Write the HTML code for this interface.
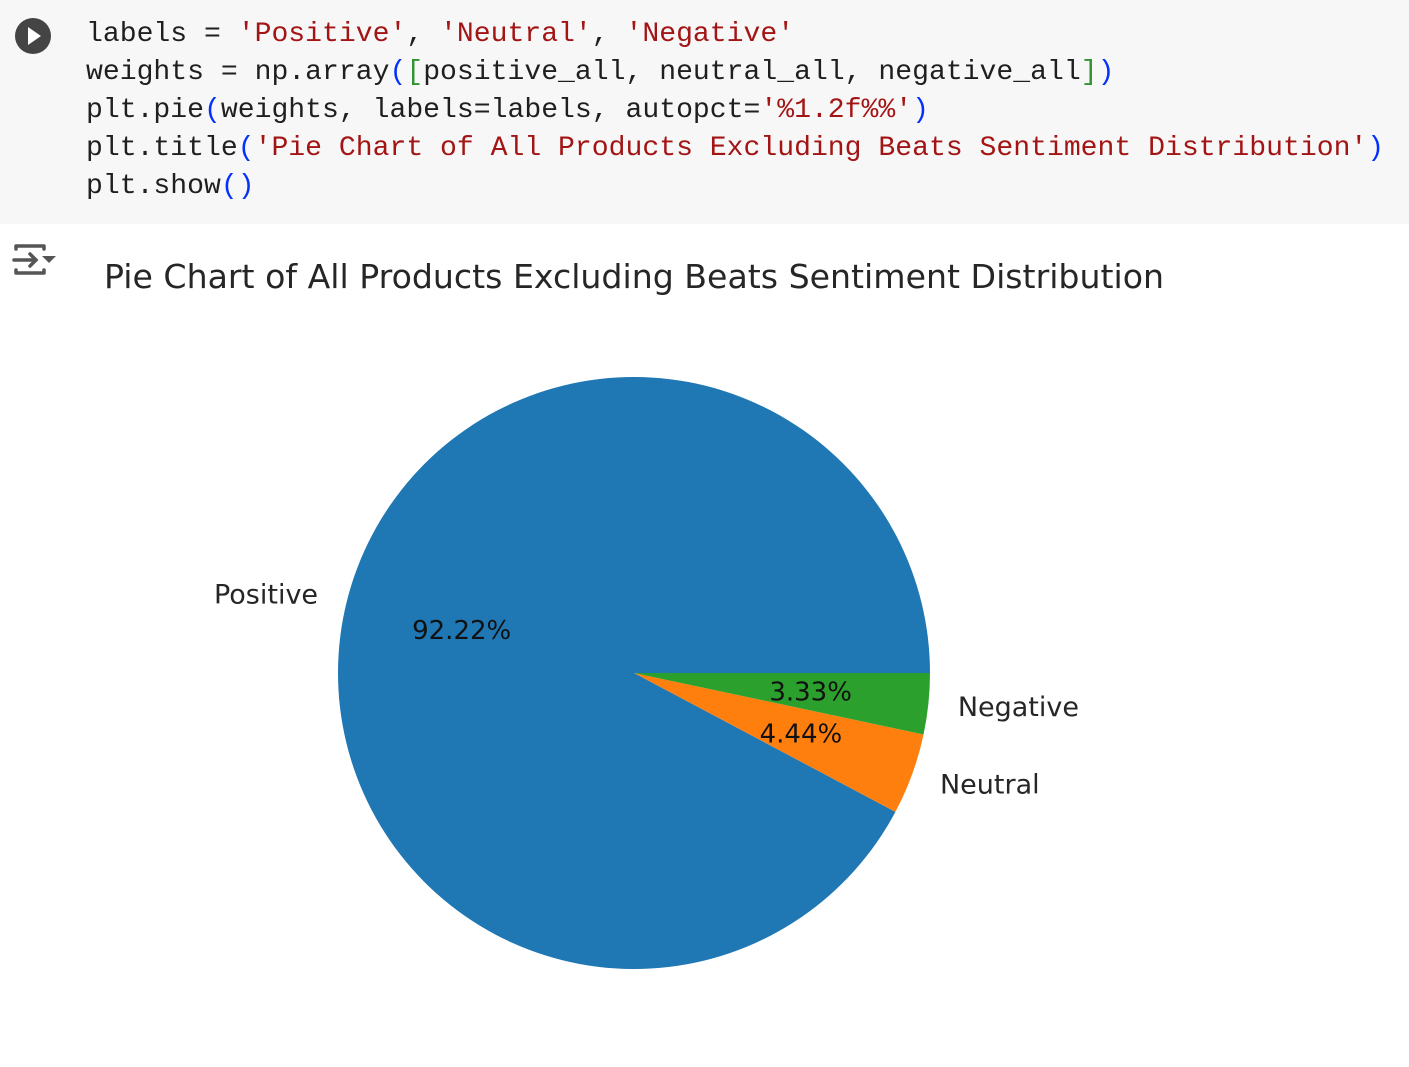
<!DOCTYPE html>
<html><head><meta charset="utf-8">
<style>
html,body{margin:0;padding:0;width:1409px;height:1067px;background:#fff;overflow:hidden}
#code{position:absolute;left:0;top:0;width:1409px;height:224px;background:#f7f7f7}
#code pre{position:absolute;left:86px;top:16px;margin:0;font-family:"Liberation Mono",monospace;font-size:28.1px;line-height:38px;color:#1f1f1f}
.s{color:#a31515}.p{color:#0431fa}.g{color:#319331}
svg text{font-family:"DejaVu Sans","Liberation Sans",sans-serif;fill:#262626}
</style></head><body>
<div id="code">
<svg style="position:absolute;left:14px;top:17px" width="38" height="38"><circle cx="19" cy="19" r="18" fill="#444"/><path d="M14 10 L27 19 L14 28 Z" fill="#fff"/></svg>
<pre>labels = <span class="s">'Positive'</span>, <span class="s">'Neutral'</span>, <span class="s">'Negative'</span>
weights = np.array<span class="p">(</span><span class="g">[</span>positive_all, neutral_all, negative_all<span class="g">]</span><span class="p">)</span>
plt.pie<span class="p">(</span>weights, labels=labels, autopct=<span class="s">'%1.2f%%'</span><span class="p">)</span>
plt.title<span class="p">(</span><span class="s">'Pie Chart of All Products Excluding Beats Sentiment Distribution'</span><span class="p">)</span>
plt.show<span class="p">()</span></pre>
</div>
<svg style="position:absolute;left:12px;top:240px" width="46" height="38"><g stroke="#555" stroke-width="3.5" fill="none" stroke-linecap="round"><path d="M4 6 H32 M4 33 H32 M4 6 V9 M32 6 V9 M4 33 V30 M32 33 V30"/><path d="M2 20 H24 M18 14 L24 20 L18 26"/></g><path d="M30 16 H44 L37 23 Z" fill="#555"/></svg>
<svg id="chart" width="1409" height="1067" style="position:absolute;left:0;top:0">
<text x="104" y="288" font-size="33" textLength="1060" lengthAdjust="spacingAndGlyphs">Pie Chart of All Products Excluding Beats Sentiment Distribution</text>
<g id="wedges"></g><g id="labels"></g>
</svg>
<script>
const categories = ['Positive','Neutral','Negative'];
const values = [92.22, 4.44, 3.33];
const colors = ['#1f77b4','#ff7f0e','#2ca02c'];
const cx = 634, cy = 673, R = 296;
const NS = 'http://www.w3.org/2000/svg';
const total = values.reduce((a,b)=>a+b,0);
const wg = document.getElementById('wedges'), lg = document.getElementById('labels');
function pt(deg, r){const a=deg*Math.PI/180;return [cx+r*Math.cos(a), cy-r*Math.sin(a)];}
let start = 0;
values.forEach((v,i)=>{
  const sweep = v/total*360, end = start+sweep;
  const [x1,y1]=pt(start,R),[x2,y2]=pt(end,R);
  const p=document.createElementNS(NS,'path');
  p.setAttribute('d',`M${cx},${cy} L${x1},${y1} A${R},${R} 0 ${sweep>180?1:0} 0 ${x2},${y2} Z`);
  p.setAttribute('fill',colors[i]);
  
  
  wg.appendChild(p);
  const mid=(start+end)/2;
  const [lx,ly]=pt(mid,R*1.1);
  const t=document.createElementNS(NS,'text');
  t.setAttribute('x',lx);t.setAttribute('y',ly+9);t.setAttribute('font-size','27');
  t.setAttribute('text-anchor',Math.cos(mid*Math.PI/180)>=0?'start':'end');
  t.textContent=categories[i];
  
  
  lg.appendChild(t);
  const [px,py]=pt(mid,R*0.6);
  const q=document.createElementNS(NS,'text');
  q.setAttribute('x',px);q.setAttribute('y',py+9);q.setAttribute('font-size','26');
  q.setAttribute('text-anchor','middle');q.setAttribute('style','fill:#111');
  q.textContent=v.toFixed(2)+'%';
  
  
  lg.appendChild(q);
  start=end;
});
</script>
</body></html>
